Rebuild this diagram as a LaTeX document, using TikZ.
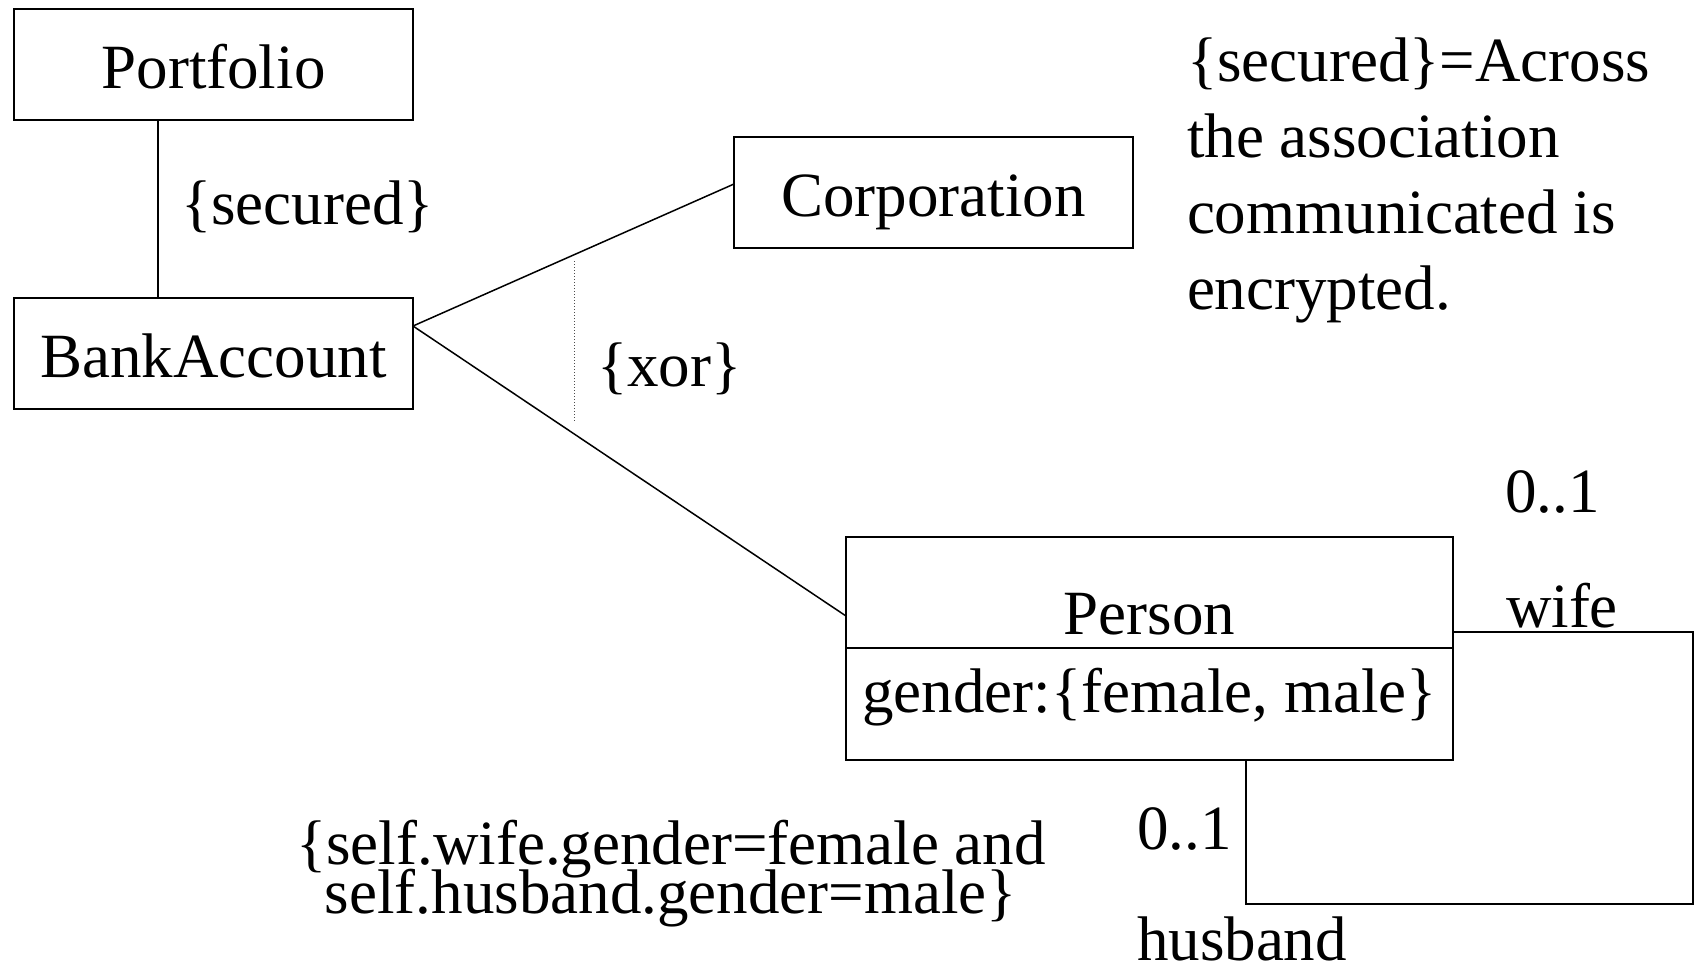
\documentclass[tikz,border=0pt]{standalone}
\usepackage{fontspec}
\setmainfont{Liberation Serif}
\usetikzlibrary{calc}
\begin{document}
\begin{tikzpicture}[x=1pt,y=-1pt,
  every node/.style={inner sep=0pt, outer sep=0pt, font=\fontsize{63}{76}\selectfont},
  classbox/.style={draw, line width=2pt, minimum width=399pt, minimum height=111pt,
                   text height=56pt, text depth=8pt},
  assoc/.style={line width=1.5pt},
  txt/.style={anchor=base west}]
\useasboundingbox (0,0) rectangle (1700,967);

% classes
\node[classbox] (pf)   at (213.5,64.5) {Portfolio};
\node[classbox] (ba)   at (213.5,353)  {BankAccount};
\node[classbox] (corp) at (933.5,192.5) {Corporation};
\node[draw, line width=2pt, minimum width=607pt, minimum height=223pt] (person) at (1149.5,648.5) {};
\draw[line width=2pt] ($(person.north west)+(0,111)$) -- ($(person.north east)+(0,111)$);
\node[anchor=base] (pname) at (1149.5,634) {Person};
\node[anchor=base] (pattr) at (1149.5,712) {gender:\{female, male\}};

% associations
\draw[assoc] ([xshift=-55.5pt]pf.south) -- ([xshift=-55.5pt]ba.north);
\node[txt] (sec) at (181,224) {\{secured\}};

\coordinate (fork) at ([yshift=27pt]ba.east);
\draw[assoc] (fork) -- ([yshift=8.5pt]corp.west);
\draw[assoc] (fork) -- ([yshift=32.5pt]person.west);

% xor constraint
\coordinate (xtop) at (574,261);
\coordinate (xbot) at (574,421);
\draw[line width=1pt, dotted, black!70] (xtop) -- (xbot);
\node[txt] (xor) at (597,386) {\{xor\}};

% note on secured (anchored at the baseline of its last line)
\node[txt, align=left] (note) at (1187,309)
  {\{secured\}=Across\\the association\\communicated is\\encrypted.};

% self association of Person
\coordinate (loopcorner) at (1693,904);
\draw[assoc] ([yshift=16.5pt]person.east) -| (loopcorner) -| ([xshift=96.5pt]person.south);
\node[txt] (m1) at (1505,512) {0..1};
\node[txt] (wife) at (1506,627) {wife};
\node[txt] (m2) at (1137,849) {0..1};
\node[txt] (husb) at (1137,960) {husband};

% OCL constraint, two centred lines
\node[anchor=base] (ocl1) at (671,864) {\{self.wife.gender=female and};
\node[anchor=base] (ocl2) at (671,913) {self.husband.gender=male\}};
\end{tikzpicture}
\end{document}
